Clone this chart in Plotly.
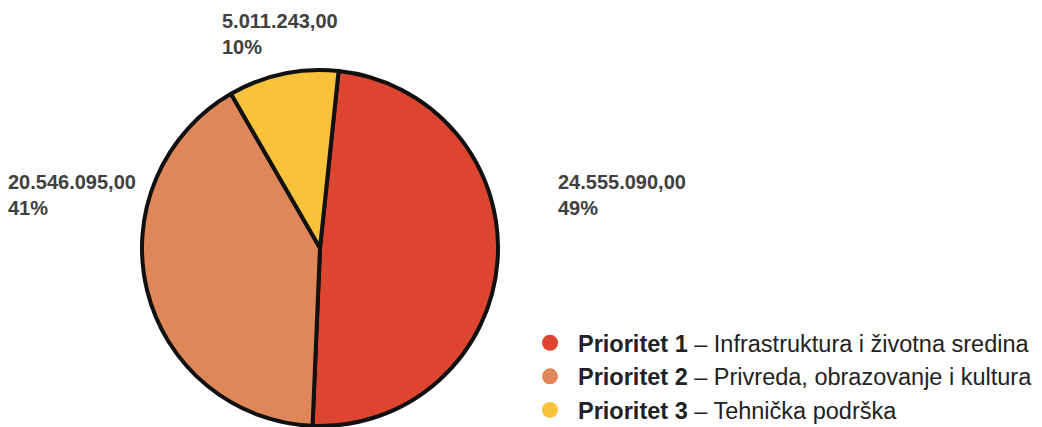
import plotly.graph_objects as go

labels = ["Prioritet 1", "Prioritet 2", "Prioritet 3"]
descriptions = ["Infrastruktura i životna sredina", "Privreda, obrazovanje i kultura", "Tehnička podrška"]
values = [24555090.00, 20546095.00, 5011243.00]
colors = ["#DE4530", "#E0875A", "#F9C23B"]

# page body has an 8px margin; the figure is sized to fill the rest of the window
OFF = 8
W, H = 1042 - OFF, 427 - OFF
M_T, M_B = 62, 1
plot_h = H - M_T - M_B

def fmt(v):
    s = f"{v:,.2f}"
    return s.replace(",", "X").replace(".", ",").replace("X", ".")

total = sum(values)
pcts = [round(v / total * 100) for v in values]

fig = go.Figure()
fig.add_trace(go.Pie(
    labels=labels, values=values, sort=False, direction="clockwise", rotation=6,
    marker=dict(colors=colors, line=dict(color="#111111", width=4)),
    textinfo="none", hoverinfo="label+value+percent", showlegend=False,
    domain=dict(x=[0, 624 / W], y=[0, 1]),
))

for lab, desc, col in zip(labels, descriptions, colors):
    fig.add_trace(go.Scatter(
        x=[None], y=[None], mode="markers",
        marker=dict(symbol="circle", size=17, color=col),
        name=f"<b>{lab}</b> – {desc}", showlegend=True,
    ))

# label positions (page pixel anchors) for each slice
label_px = [(556, 195), (6, 195), (220, 34)]
for v, p, (px, py) in zip(values, pcts, label_px):
    fx, fy = px - OFF, py - OFF
    fig.add_annotation(
        x=fx / W, y=(H - M_B - fy) / plot_h, xref="paper", yref="paper",
        xanchor="left", yanchor="middle", align="left", showarrow=False,
        text=f"<b>{fmt(v)}<br>{p}%</b>",
        font=dict(family="Liberation Sans, Arial, sans-serif", size=20, color="#404040"),
    )

fig.update_layout(
    width=W, height=H,
    margin=dict(l=0, r=0, t=M_T, b=M_B, autoexpand=False),
    paper_bgcolor="white", plot_bgcolor="white",
    xaxis=dict(visible=False), yaxis=dict(visible=False),
    legend=dict(
        x=514 / W, y=-6 / plot_h, xanchor="left", yanchor="bottom",
        font=dict(family="Liberation Sans, Arial, sans-serif", size=23.5, color="#222222"),
        bgcolor="rgba(0,0,0,0)", itemwidth=46,
    ),
)

fig.write_html("out.html")
